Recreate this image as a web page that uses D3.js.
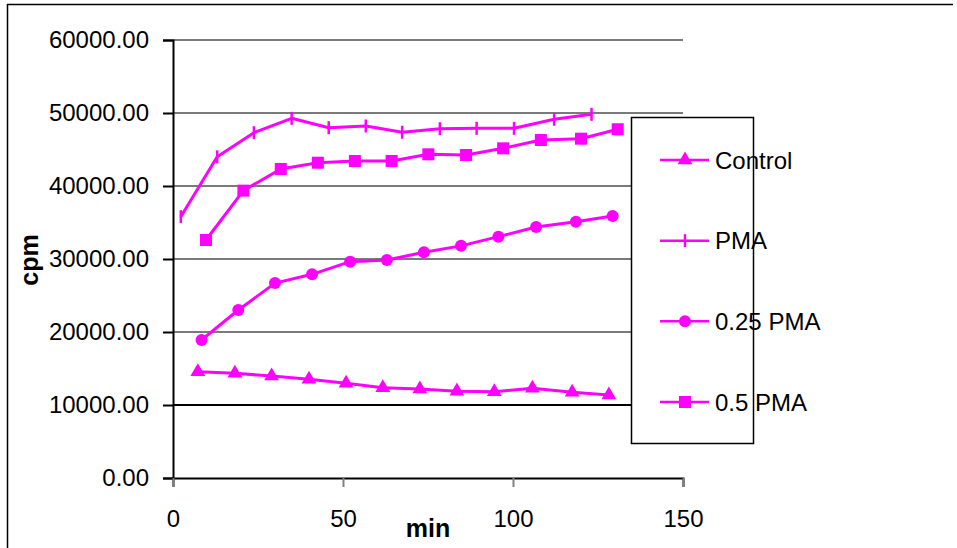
<!DOCTYPE html>
<html>
<head>
<style>
  body { margin: 0; background: #fff; }
  text { font-family: "Liberation Sans", Arial, sans-serif; }
</style>
<script src="https://d3js.org/d3.v7.min.js"></script>
<title>cpm over time</title>
</head>
<body>
<svg width="957" height="548"></svg>
<script>
// values
var controlMin = [7.3, 18.2, 29.0, 40.0, 50.9, 61.7, 72.6, 83.5, 94.5, 105.7, 117.4, 128.2];
var controlCpm = [14560, 14340, 13970, 13520, 12970, 12370, 12190, 11900, 11820, 12290, 11740, 11370];

var pmaMin = [2.3, 13.0, 23.8, 34.9, 45.8, 56.7, 67.4, 78.5, 89.3, 100.3, 112.1, 123.1];
var pmaCpm = [35800, 44000, 47300, 49270, 47990, 48220, 47360, 47850, 47900, 47900, 49140, 49820];

var pma025Min = [8.4, 19.2, 30.0, 40.9, 52.1, 62.9, 73.8, 84.7, 95.7, 106.8, 118.5, 129.3];
var pma025Cpm = [18900, 23010, 26700, 27900, 29630, 29860, 30920, 31800, 33060, 34380, 35110, 35890];

var pma05Min = [9.7, 20.7, 31.7, 42.6, 53.5, 64.3, 75.1, 86.2, 97.1, 108.2, 120.0, 130.8];
var pma05Cpm = [32600, 39360, 42330, 43190, 43420, 43430, 44340, 44250, 45160, 46300, 46480, 47770];

var seriesNames = ["Control", "PMA", "0.25 PMA", "0.5 PMA"];
var xTicks = [0, 50, 100, 150];
var yTicks = [0, 10000, 20000, 30000, 40000, 50000, 60000];

var svg = d3.select("svg");
var magenta = "#ff00ff";

// outer frame (only top and left edge are visible)
svg.append("line").attr("x1", 7).attr("x2", 953).attr("y1", 4.5).attr("y2", 4.5)
   .attr("stroke", "#000").attr("stroke-width", 1.5);
svg.append("line").attr("x1", 7.5).attr("x2", 7.5).attr("y1", 4).attr("y2", 548)
   .attr("stroke", "#000").attr("stroke-width", 1.5);

var x = d3.scaleLinear().domain([0, 150]).range([173, 683]);
var y = d3.scaleLinear().domain([0, 60000]).range([478, 40]);

// gridlines
svg.append("g").selectAll("line")
   .data(yTicks.filter(function(d) { return d > 0; }))
   .enter().append("line")
   .attr("x1", x(0)).attr("x2", x(150))
   .attr("y1", function(d) { return y(d); })
   .attr("y2", function(d) { return y(d); })
   .attr("stroke", function(d) { return d == 10000 ? "#000" : "#7a7a7a"; })
   .attr("stroke-width", 2.2);

// axes
var yAxis = svg.append("g")
   .attr("transform", "translate(" + x(0) + ",0)")
   .call(d3.axisLeft(y).tickValues(yTicks).tickSize(10).tickPadding(14)
      .tickFormat(function(d) { return d3.format(".2f")(d); }));
var xAxis = svg.append("g")
   .attr("transform", "translate(0," + y(0) + ")")
   .call(d3.axisBottom(x).tickValues(xTicks).tickSize(9).tickPadding(23));

[yAxis, xAxis].forEach(function(a) {
   a.select(".domain").attr("stroke", "#000").attr("stroke-width", 2);
   a.selectAll(".tick line").attr("stroke", "#000").attr("stroke-width", 2);
   a.selectAll(".tick text").attr("fill", "#000")
      .style("font-family", "'Liberation Sans', Arial, sans-serif").style("font-size", "24px");
});
xAxis.selectAll(".tick line").attr("stroke", "#808080");

// axis titles
svg.append("text").attr("x", 428).attr("y", 537).attr("text-anchor", "middle")
   .style("font-size", "25px").style("font-weight", "bold").text("min");
svg.append("text").attr("transform", "translate(38,260) rotate(-90)").attr("text-anchor", "middle")
   .style("font-size", "25px").style("font-weight", "bold").text("cpm");

// marker drawing
function drawMarker(g, kind, cx, cy) {
   if (kind == "triangle") {
      g.append("path").attr("transform", "translate(" + cx + "," + cy + ")")
         .attr("d", d3.symbol().type(d3.symbolTriangle).size(95)).attr("fill", magenta);
   } else if (kind == "tick") {
      g.append("line").attr("x1", cx).attr("x2", cx).attr("y1", cy - 6.5).attr("y2", cy + 6.5)
         .attr("stroke", magenta).attr("stroke-width", 2.5);
   } else if (kind == "circle") {
      g.append("circle").attr("cx", cx).attr("cy", cy).attr("r", 6).attr("fill", magenta);
   } else {
      g.append("rect").attr("x", cx - 6).attr("y", cy - 6).attr("width", 12).attr("height", 12)
         .attr("fill", magenta);
   }
}

var series = [
   { name: seriesNames[0], xs: controlMin, ys: controlCpm, kind: "triangle" },
   { name: seriesNames[1], xs: pmaMin, ys: pmaCpm, kind: "tick" },
   { name: seriesNames[2], xs: pma025Min, ys: pma025Cpm, kind: "circle" },
   { name: seriesNames[3], xs: pma05Min, ys: pma05Cpm, kind: "square" }
];

var line = d3.line().x(function(d) { return x(d[0]); }).y(function(d) { return y(d[1]); });

series.forEach(function(s) {
   var pts = d3.zip(s.xs, s.ys);
   var g = svg.append("g");
   g.append("path").datum(pts).attr("d", line)
      .attr("fill", "none").attr("stroke", magenta).attr("stroke-width", 3)
      .attr("stroke-linejoin", "round");
   pts.forEach(function(p) { drawMarker(g, s.kind, x(p[0]), y(p[1])); });
});

// legend
var legend = svg.append("g");
legend.append("rect").attr("x", 631.5).attr("y", 117.5).attr("width", 122).attr("height", 326)
   .attr("fill", "#fff").attr("stroke", "#000").attr("stroke-width", 1.5);
var rowY = d3.scalePoint().domain(seriesNames).range([160, 402]);
series.forEach(function(s) {
   var ry = rowY(s.name);
   legend.append("line").attr("x1", 660).attr("x2", 709).attr("y1", ry).attr("y2", ry)
      .attr("stroke", magenta).attr("stroke-width", 2.5);
   drawMarker(legend, s.kind, 685, ry);
   legend.append("text").attr("x", 715).attr("y", ry).attr("dy", "0.36em")
      .style("font-size", "24px").attr("fill", "#000").text(s.name);
});
</script>
</body>
</html>
